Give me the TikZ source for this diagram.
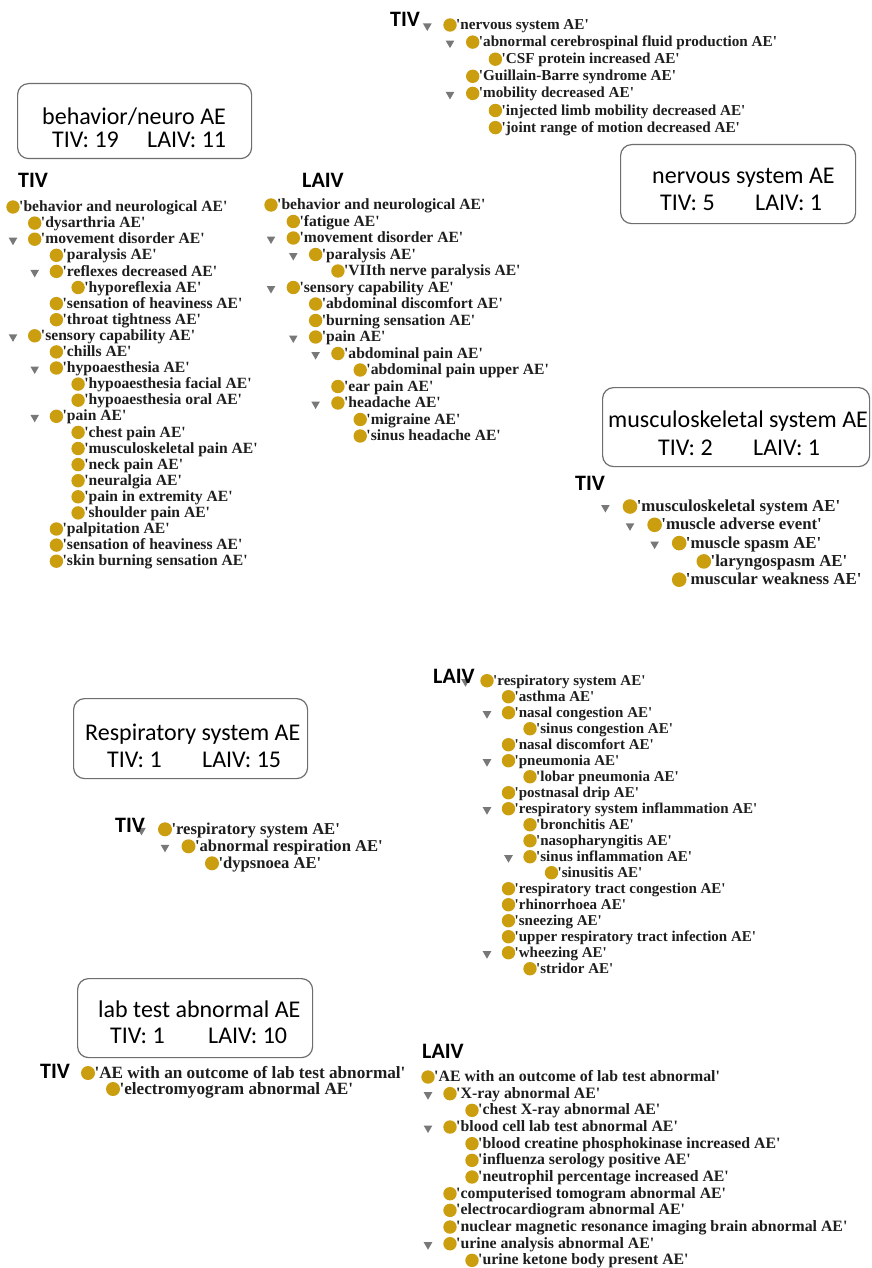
\documentclass[tikz,border=0pt]{standalone}
\usepackage{fontspec}
\setmainfont{Liberation Serif}
\newfontfamily\treefont{Liberation Serif}[Ligatures=TeXOff]
\newfontfamily\boxfont{Carlito}
\usetikzlibrary{shapes.geometric}
\definecolor{gold}{RGB}{203,158,16}
\definecolor{trigray}{RGB}{120,120,120}
\definecolor{ink}{RGB}{30,30,30}
\definecolor{frame}{RGB}{110,110,110}

% tree parameters: origin of level-0 dot, indent, row pitch, font size, dot size, baseline drop
\newcommand\tree[7]{\def\tx{#1}\def\ty{#2}\def\dx{#3}\def\dy{#4}\def\tfs{#5}\def\dsz{#6}\def\boff{#7}}
\newcommand\leaf[4]{%
  \node[dot] (#1) at ({\tx+(#2)*\dx},{\ty+(#3)*\dy}) {};
  \node[lbl] (#1t) at ([xshift={0.45*\dsz pt},yshift={-\boff pt}]#1.center) {#4};}
\newcommand\fold[4]{%
  \node[tri] (#1v) at ({\tx+(#2-1)*\dx},{\ty+(#3)*\dy+1}) {};
  \leaf{#1}{#2}{#3}{#4}}

\tikzset{
  dot/.style={circle, fill=gold, inner sep=0pt, minimum size=\dsz pt},
  lbl/.style={anchor=base west, inner sep=0pt, text=ink,
    font=\treefont\bfseries\fontsize{\tfs}{\tfs}\selectfont},
  tri/.style={regular polygon, regular polygon sides=3, shape border rotate=180,
    fill=trigray, inner sep=0pt, minimum size=10pt},
  hdr/.style={anchor=base west, inner sep=0pt, text=black,
    font=\boxfont\bfseries\fontsize{22}{22}\selectfont},
  panel/.style={draw=frame, line width=1.2pt, rounded corners=11pt, fill=white,
    anchor=north west, inner sep=0pt},
  ptxt/.style={anchor=base west, inner sep=0pt, text=black,
    font=\boxfont\fontsize{24}{24}\selectfont},
}

\begin{document}
\begin{tikzpicture}[x=1pt,y=-1pt]
\path[use as bounding box, fill=white] (0,0) rectangle (871,1268);

% ---------- summary panels ----------
\node[panel, minimum width=234pt, minimum height=75pt] (pB) at (17,83) {};
\node[ptxt] (pB1) at (42,125) {behavior/neuro AE};
\node[ptxt] (pB2) at (52,148) {TIV: 19};
\node[ptxt] (pB3) at (147,148) {LAIV: 11};

\node[panel, minimum width=235pt, minimum height=79pt] (pN) at (620,144) {};
\node[ptxt] (pN1) at (652,183) {nervous system AE};
\node[ptxt] (pN2) at (660,211) {TIV: 5};
\node[ptxt] (pN3) at (755,211) {LAIV: 1};

\node[panel, minimum width=267pt, minimum height=79pt] (pM) at (602,387) {};
\node[ptxt] (pM1) at (608,427) {musculoskeletal system AE};
\node[ptxt] (pM2) at (658,455) {TIV: 2};
\node[ptxt] (pM3) at (753,455) {LAIV: 1};

\node[panel, minimum width=234pt, minimum height=80pt] (pR) at (73,698) {};
\node[ptxt] (pR1) at (85,740) {Respiratory system AE};
\node[ptxt] (pR2) at (107,767) {TIV: 1};
\node[ptxt] (pR3) at (202,767) {LAIV: 15};

\node[panel, minimum width=235pt, minimum height=79pt] (pL) at (77,978) {};
\node[ptxt] (pL1) at (98,1017) {lab test abnormal AE};
\node[ptxt] (pL2) at (110,1043) {TIV: 1};
\node[ptxt] (pL3) at (208,1043) {LAIV: 10};

% ---------- TIV: nervous system ----------
\tree{450}{25}{22.7}{17.1}{15.2}{13.4}{4.6}
\node[hdr] (hA) at (390,27) {TIV};
\fold{a0}{0}{0}{'nervous system AE'}
\fold{a1}{1}{1}{'abnormal cerebrospinal fluid production AE'}
\leaf{a2}{2}{2}{'CSF protein increased AE'}
\leaf{a3}{1}{3}{'Guillain-Barre syndrome AE'}
\fold{a4}{1}{4}{'mobility decreased AE'}
\leaf{a5}{2}{5}{'injected limb mobility decreased AE'}
\leaf{a6}{2}{6}{'joint range of motion decreased AE'}

% ---------- TIV: behavior and neurological ----------
\tree{13}{207}{21.7}{16.1}{15.6}{13.4}{4.6}
\node[hdr] (hB) at (18,188) {TIV};
\leaf{b0}{0}{0}{'behavior and neurological AE'}
\leaf{b1}{1}{1}{'dysarthria AE'}
\fold{b2}{1}{2}{'movement disorder AE'}
\leaf{b3}{2}{3}{'paralysis AE'}
\fold{b4}{2}{4}{'reflexes decreased AE'}
\leaf{b5}{3}{5}{'hyporeflexia AE'}
\leaf{b6}{2}{6}{'sensation of heaviness AE'}
\leaf{b7}{2}{7}{'throat tightness AE'}
\fold{b8}{1}{8}{'sensory capability AE'}
\leaf{b9}{2}{9}{'chills AE'}
\fold{b10}{2}{10}{'hypoaesthesia AE'}
\leaf{b11}{3}{11}{'hypoaesthesia facial AE'}
\leaf{b12}{3}{12}{'hypoaesthesia oral AE'}
\fold{b13}{2}{13}{'pain AE'}
\leaf{b14}{3}{14}{'chest pain AE'}
\leaf{b15}{3}{15}{'musculoskeletal pain AE'}
\leaf{b16}{3}{16}{'neck pain AE'}
\leaf{b17}{3}{17}{'neuralgia AE'}
\leaf{b18}{3}{18}{'pain in extremity AE'}
\leaf{b19}{3}{19}{'shoulder pain AE'}
\leaf{b20}{2}{20}{'palpitation AE'}
\leaf{b21}{2}{21}{'sensation of heaviness AE'}
\leaf{b22}{2}{22}{'skin burning sensation AE'}

% ---------- LAIV: behavior and neurological ----------
\tree{271}{205}{22.3}{16.5}{15.6}{13.4}{4.6}
\node[hdr] (hC) at (302,188) {LAIV};
\leaf{c0}{0}{0}{'behavior and neurological AE'}
\leaf{c1}{1}{1}{'fatigue AE'}
\fold{c2}{1}{2}{'movement disorder AE'}
\fold{c3}{2}{3}{'paralysis AE'}
\leaf{c4}{3}{4}{'VIIth nerve paralysis AE'}
\fold{c5}{1}{5}{'sensory capability AE'}
\leaf{c6}{2}{6}{'abdominal discomfort AE'}
\leaf{c7}{2}{7}{'burning sensation AE'}
\fold{c8}{2}{8}{'pain AE'}
\fold{c9}{3}{9}{'abdominal pain AE'}
\leaf{c10}{4}{10}{'abdominal pain upper AE'}
\leaf{c11}{3}{11}{'ear pain AE'}
\fold{c12}{3}{12}{'headache AE'}
\leaf{c13}{4}{13}{'migraine AE'}
\leaf{c14}{4}{14}{'sinus headache AE'}

% ---------- TIV: musculoskeletal system ----------
\tree{630}{506.5}{24.6}{18.3}{16.8}{14.6}{5}
\node[hdr] (hD) at (575,490) {TIV};
\fold{d0}{0}{0}{'musculoskeletal system AE'}
\fold{d1}{1}{1}{'muscle adverse event'}
\fold{d2}{2}{2}{'muscle spasm AE'}
\leaf{d3}{3}{3}{'laryngospasm AE'}
\leaf{d4}{2}{4}{'muscular weakness AE'}

% ---------- LAIV: respiratory system ----------
\tree{487}{680.7}{21.5}{16.0}{15}{13.4}{4.5}
\fold{e0}{0}{0}{'respiratory system AE'}
\node[hdr] (hE) at (433,683) {LAIV};
\leaf{e1}{1}{1}{'asthma AE'}
\fold{e2}{1}{2}{'nasal congestion AE'}
\leaf{e3}{2}{3}{'sinus congestion AE'}
\leaf{e4}{1}{4}{'nasal discomfort AE'}
\fold{e5}{1}{5}{'pneumonia AE'}
\leaf{e6}{2}{6}{'lobar pneumonia AE'}
\leaf{e7}{1}{7}{'postnasal drip AE'}
\fold{e8}{1}{8}{'respiratory system inflammation AE'}
\leaf{e9}{2}{9}{'bronchitis AE'}
\leaf{e10}{2}{10}{'nasopharyngitis AE'}
\fold{e11}{2}{11}{'sinus inflammation AE'}
\leaf{e12}{3}{12}{'sinusitis AE'}
\leaf{e13}{1}{13}{'respiratory tract congestion AE'}
\leaf{e14}{1}{14}{'rhinorrhoea AE'}
\leaf{e15}{1}{15}{'sneezing AE'}
\leaf{e16}{1}{16}{'upper respiratory tract infection AE'}
\fold{e17}{1}{17}{'wheezing AE'}
\leaf{e18}{2}{18}{'stridor AE'}

% ---------- TIV: respiratory system ----------
\tree{165}{829.3}{23.5}{17}{16.6}{14}{4.8}
\fold{f0}{0}{0}{'respiratory system AE'}
\node[hdr] (hF) at (115,832) {TIV};
\fold{f1}{1}{1}{'abnormal respiration AE'}
\leaf{f2}{2}{2}{'dypsnoea AE'}

% ---------- TIV: lab test abnormal ----------
\tree{88}{1073}{25}{16}{17.2}{14}{5}
\node[hdr] (hG) at (40,1078) {TIV};
\leaf{g0}{0}{0}{'AE with an outcome of lab test abnormal'}
\leaf{g1}{1}{1}{'electromyogram abnormal AE'}

% ---------- LAIV: lab test abnormal ----------
\tree{428}{1077}{22}{16.67}{15.8}{13.4}{4.6}
\node[hdr] (hH) at (422,1058) {LAIV};
\leaf{h0}{0}{0}{'AE with an outcome of lab test abnormal'}
\fold{h1}{1}{1}{'X-ray abnormal AE'}
\leaf{h2}{2}{2}{'chest X-ray abnormal AE'}
\fold{h3}{1}{3}{'blood cell lab test abnormal AE'}
\leaf{h4}{2}{4}{'blood creatine phosphokinase increased AE'}
\leaf{h5}{2}{5}{'influenza serology positive AE'}
\leaf{h6}{2}{6}{'neutrophil percentage increased AE'}
\leaf{h7}{1}{7}{'computerised tomogram abnormal AE'}
\leaf{h8}{1}{8}{'electrocardiogram abnormal AE'}
\leaf{h9}{1}{9}{'nuclear magnetic resonance imaging brain abnormal AE'}
\fold{h10}{1}{10}{'urine analysis abnormal AE'}
\leaf{h11}{2}{11}{'urine ketone body present AE'}
\end{tikzpicture}
\end{document}
